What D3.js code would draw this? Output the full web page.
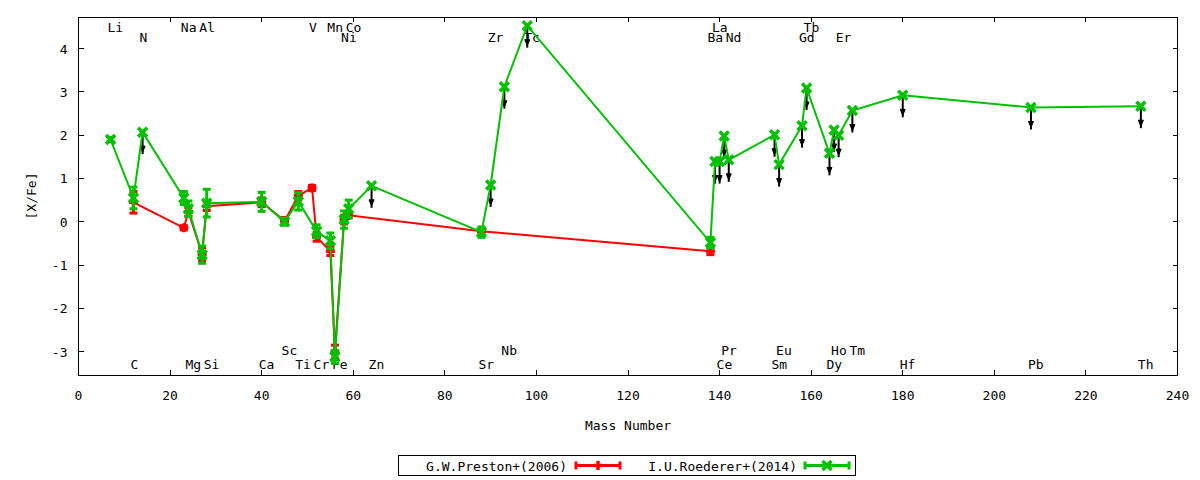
<!DOCTYPE html>
<html>
<head>
<meta charset="utf-8">
<script src="https://cdn.jsdelivr.net/npm/d3@7"></script>
<style>
  body { margin: 0; background: #fff; }
  svg text { font-family: "DejaVu Sans Mono", monospace; font-size: 13px; fill: #000; }
</style>
</head>
<body>
<svg id="chart" width="1200" height="480"></svg>
<script>
// ── data ──
// element -> mass number of its main isotope (x position)
const elements = ["Li","C","N","Na","Mg","Al","Si","Ca","Sc","Ti","V","Cr","Mn","Fe","Ni","Co","Zn",
  "Sr","Zr","Nb","Tc","Ba","La","Ce","Pr","Nd","Sm","Eu","Gd","Tb","Dy","Ho","Er","Tm","Hf","Pb","Th"];
const massNumbers = [7,12,14,23,24,27,28,40,45,48,51,52,55,56,58,59,64,
  88,90,93,98,138,139,140,141,142,152,153,158,159,164,165,166,169,180,208,232];

// element name rows (two above, two below)
const labelsTopA = ["Li","Na","Al","V","Mn","Co","La","Tb"];
const labelsTopB = ["N","Ni","Zr","Tc","Ba","Nd","Gd","Er"];
const labelsBotA = ["Sc","Nb","Pr","Eu","Ho","Tm"];
const labelsBotB = ["C","Mg","Si","Ca","Ti","Cr","Fe","Zn","Sr","Ce","Sm","Dy","Hf","Pb","Th"];

const prestonElems = ["C","Na","Mg","Al","Si","Ca","Sc","Ti","V","Cr","Mn","Fe","Ni","Co","Sr","Ba"];
const prestonVals = [0.45,-0.14,0.23,-0.75,0.36,0.45,0.02,0.60,0.78,-0.35,-0.68,-3.00,0.05,0.15,-0.22,-0.68];
const prestonErrs = [0.25,0.05,0.10,0.15,0.10,0.10,0.08,0.10,0.06,0.10,0.10,0.15,0.10,0.06,0.06,0.08];

const roedererElems = ["Li","C","N","Na","Mg","Al","Si","Ca","Sc","Ti","Cr","Mn","Fe","Ni","Co","Zn",
  "Sr","Zr","Nb","Tc","Ba","La","Ce","Pr","Nd","Sm","Eu","Gd","Tb","Dy","Ho","Er","Tm","Hf","Pb","Th"];
const roedererVals = [1.90,0.55,2.07,0.55,0.30,-0.76,0.43,0.46,0.00,0.47,-0.22,-0.44,-3.12,0.05,0.30,0.83,
  -0.24,0.85,3.12,4.53,-0.48,1.39,1.39,1.98,1.43,2.01,1.32,2.22,3.09,1.58,2.12,2.00,2.57,2.92,2.64,2.67];
const roedererErrs = [0.05,0.25,0.05,0.15,0.18,0.20,0.32,0.22,0.08,0.20,0.15,0.18,0.15,0.20,0.20,0.05,
  0.12,0.05,0.05,0.05,0.12,0.05,0.05,0.05,0.05,0.05,0.05,0.05,0.05,0.05,0.05,0.05,0.05,0.05,0.05,0.05];
// points drawn with a downward arrow
const upperLimits = ["N","Zn","Zr","Nb","Tc","La","Ce","Pr","Nd","Sm","Eu","Gd","Tb","Dy","Ho","Er","Tm","Hf","Pb","Th"];

const xTicks = d3.range(0, 241, 20);
const yTicks = [-3,-2,-1,0,1,2,3,4];

// ── chart ──
const W = 1200, H = 480,
  M = { t: 17, r: 22.5, b: 105, l: 78.5 },
  w = W - M.l - M.r,
  h = H - M.t - M.b;
const RED = "#ff0000", GREEN = "#00c000";
const massOf = (el) => massNumbers[elements.indexOf(el)];

const svg = d3.select("#chart");
const x = d3.scaleLinear().domain([0, 240]).range([M.l, M.l + w]);
const y = d3.scaleLinear().domain([-3.54, 4.73]).range([M.t + h, M.t]);

// ticks, all four sides, pointing in
const tk = 5;
const axes = svg.append("g").attr("stroke", "#000").attr("stroke-width", 1).attr("shape-rendering", "crispEdges");
xTicks.forEach((v) => {
  axes.append("line").attr("x1", x(v)).attr("x2", x(v)).attr("y1", M.t + h).attr("y2", M.t + h - tk);
  axes.append("line").attr("x1", x(v)).attr("x2", x(v)).attr("y1", M.t).attr("y2", M.t + tk);
});
yTicks.forEach((v) => {
  axes.append("line").attr("x1", M.l).attr("x2", M.l + tk).attr("y1", y(v)).attr("y2", y(v));
  axes.append("line").attr("x1", M.l + w).attr("x2", M.l + w - tk).attr("y1", y(v)).attr("y2", y(v));
});

svg.selectAll(".xt").data(xTicks).enter().append("text")
  .attr("x", (d) => x(d)).attr("y", M.t + h + 25)
  .attr("text-anchor", "middle").text((d) => d);
svg.selectAll(".yt").data(yTicks).enter().append("text")
  .attr("x", M.l - 11).attr("y", (d) => y(d) + 5)
  .attr("text-anchor", "end").text((d) => d);

svg.append("text").attr("x", M.l + w / 2).attr("y", M.t + h + 55)
  .attr("text-anchor", "middle").text("Mass Number");
svg.append("text").attr("transform", `translate(36,${M.t + h / 2}) rotate(-90)`)
  .attr("text-anchor", "middle").text("[X/Fe]");

// element names (under the data)
const labelRows = [[labelsTopA, 4.5], [labelsTopB, 4.26], [labelsBotA, -2.97], [labelsBotB, -3.29]];
labelRows.forEach(([names, v]) => {
  svg.append("g").selectAll("text").data(names).enter().append("text")
    .attr("x", (d) => x(massOf(d)) - 3).attr("y", y(v) + 5)
    .text((d) => d);
});

function series(names, vals, errs) {
  return names.map((n, i) => ({ name: n, m: massOf(n), v: vals[i], e: errs[i] }));
}
const preston = series(prestonElems, prestonVals, prestonErrs);
const roederer = series(roedererElems, roedererVals, roedererErrs);

const line = d3.line().x((d) => x(d.m)).y((d) => y(d.v));

// upper-limit arrows
const arrows = svg.append("g");
roederer.filter((d) => upperLimits.includes(d.name)).forEach((d) => {
  const px = x(d.m), py = y(d.v);
  arrows.append("line").attr("x1", px).attr("x2", px).attr("y1", py).attr("y2", py + 22)
    .attr("stroke", "#000").attr("stroke-width", 2);
  arrows.append("path")
    .attr("d", `M${px - 2.5},${py + 14} L${px + 2.5},${py + 14} L${px},${py + 20} Z`)
    .attr("fill", "#000").attr("stroke", "#000").attr("stroke-width", 1);
});

const S = 4.5; // marker half size
function markerPath(cx, cy, marker) {
  return marker === "x"
    ? `M${cx - S},${cy - S}L${cx + S},${cy + S}M${cx - S},${cy + S}L${cx + S},${cy - S}`
    : `M${cx - S},${cy}L${cx + S},${cy}M${cx},${cy - S}L${cx},${cy + S}`;
}

function drawSeries(data, color, marker, withErr) {
  const g = svg.append("g");
  g.append("path").datum(data).attr("d", line)
    .attr("fill", "none").attr("stroke", color).attr("stroke-width", 2);
  data.forEach((d) => {
    const px = x(d.m), py = y(d.v);
    if (withErr(d)) {
      const y0 = y(d.v - d.e), y1 = y(d.v + d.e);
      g.append("line").attr("x1", px).attr("x2", px).attr("y1", y0).attr("y2", y1)
        .attr("stroke", color).attr("stroke-width", 3);
      [y0, y1].forEach((yy) => g.append("line")
        .attr("x1", px - 4).attr("x2", px + 4).attr("y1", yy).attr("y2", yy)
        .attr("stroke", color).attr("stroke-width", 3));
    }
    g.append("path").attr("d", markerPath(px, py, marker))
      .attr("stroke", color).attr("stroke-width", 3.5).attr("fill", "none");
  });
}
drawSeries(preston, RED, "+", () => true);
drawSeries(roederer, GREEN, "x", (d) => !upperLimits.includes(d.name));

// frame
svg.append("rect").attr("x", M.l).attr("y", M.t).attr("width", w).attr("height", h)
  .attr("fill", "none").attr("stroke", "#000").attr("stroke-width", 1).attr("shape-rendering", "crispEdges");

// ── legend ──
const lg = svg.append("g");
lg.append("rect").attr("x", 398.5).attr("y", 455.5).attr("width", 457).attr("height", 20)
  .attr("fill", "none").attr("stroke", "#000").attr("stroke-width", 1).attr("shape-rendering", "crispEdges");
const legendItems = [
  { label: "G.W.Preston+(2006)", color: RED, marker: "+", xEnd: 567, s0: 576, s1: 620 },
  { label: "I.U.Roederer+(2014)", color: GREEN, marker: "x", xEnd: 797, s0: 805, s1: 849 },
];
legendItems.forEach((it) => {
  const ly = 465.5;
  lg.append("text").attr("x", it.xEnd).attr("y", ly + 5).attr("text-anchor", "end").text(it.label);
  lg.append("line").attr("x1", it.s0).attr("x2", it.s1).attr("y1", ly).attr("y2", ly)
    .attr("stroke", it.color).attr("stroke-width", 3);
  [it.s0, it.s1].forEach((sx) => lg.append("line").attr("x1", sx).attr("x2", sx)
    .attr("y1", ly - 4).attr("y2", ly + 4).attr("stroke", it.color).attr("stroke-width", 3));
  const cx = (it.s0 + it.s1) / 2;
  lg.append("path").attr("d", markerPath(cx, ly, it.marker))
    .attr("stroke", it.color).attr("stroke-width", 3.5).attr("fill", "none");
});
</script>
</body>
</html>
